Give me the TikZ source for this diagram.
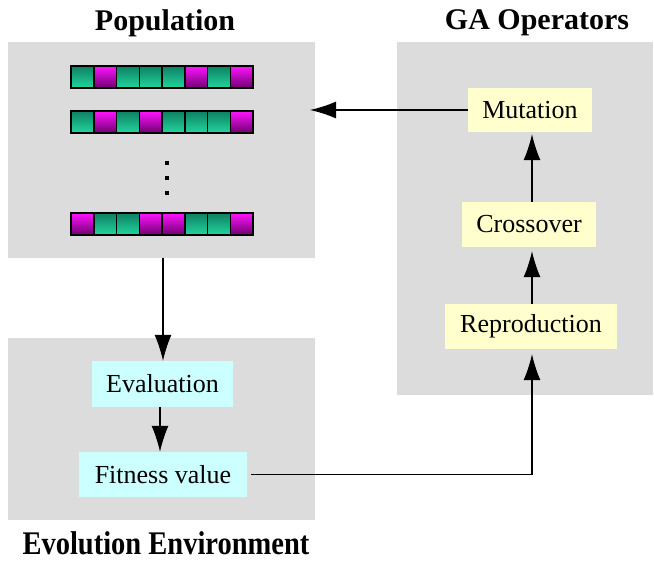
\documentclass[tikz,border=0pt]{standalone}
\usepackage{fontspec}
\setmainfont{Liberation Serif}
\usetikzlibrary{arrows.meta}
\definecolor{panelgray}{RGB}{220,220,220}
\definecolor{opyellow}{RGB}{255,255,206}
\definecolor{evcyan}{RGB}{204,255,255}
\definecolor{gtop}{RGB}{14,128,98}
\definecolor{gbot}{RGB}{34,214,158}
\definecolor{mtop}{RGB}{255,20,255}
\definecolor{mbot}{RGB}{110,0,110}
\tikzset{
  panel/.style={fill=panelgray, draw=none, inner sep=0pt},
  opbox/.style={fill=opyellow, draw=none, inner sep=0pt, font=\fontsize{26}{30}\selectfont},
  evbox/.style={fill=evcyan, draw=none, inner sep=0pt, font=\fontsize{26}{30}\selectfont},
  title/.style={font=\fontsize{30}{36}\selectfont\bfseries, inner sep=0pt},
  conn/.style={line width=1.1pt, -{Latex[length=26pt,width=17pt]}},
  gcell/.style={top color=gtop, bottom color=gbot, draw=black, line width=1.5pt},
  mcell/.style={top color=mtop, bottom color=mbot, draw=black, line width=1.5pt},
}
\begin{document}
\begin{tikzpicture}[x=1pt,y=-1pt]
\useasboundingbox (0,0) rectangle (654,561);
\fill[white] (0,0) rectangle (654,561);
% panels
\node[panel, minimum width=307pt, minimum height=216pt] (pop) at (161.5,150) {};
\node[panel, minimum width=307pt, minimum height=182pt] (env) at (161.5,429) {};
\node[panel, minimum width=256pt, minimum height=353pt] (ga) at (525,218.5) {};
% titles
\node[title] (tpop) at (165,23) {Population};
\node[title] (tga) at (537,23) {GA Operators};
\node[title] (tenv) at (166,543) {\scalebox{0.95}[1.1]{Evolution Environment}};
% chromosomes
\foreach \r/\y in {1/66, 2/111, 3/213}{
  \foreach \i in {0,...,7}{
    \coordinate (c\r-\i) at ({71+22.75*\i},\y);
  }
}
\foreach \i/\t in {0/g,1/m,2/g,3/g,4/g,5/m,6/g,7/m}{
  \path[\t cell] (c1-\i) rectangle ++(22.75,22);
}
\foreach \i/\t in {0/g,1/m,2/g,3/m,4/g,5/g,6/g,7/m}{
  \path[\t cell] (c2-\i) rectangle ++(22.75,22);
}
\foreach \i/\t in {0/m,1/g,2/g,3/m,4/m,5/g,6/g,7/m}{
  \path[\t cell] (c3-\i) rectangle ++(22.75,22);
}
% dots
\foreach \y in {163,178,193}{
  \fill[black] (165,{\y-2}) rectangle (169,{\y+2});
}
% operator boxes
\node[opbox, minimum width=124pt, minimum height=44pt] (mut) at (530,110) {Mutation};
\node[opbox, minimum width=134pt, minimum height=45pt] (cross) at (529,224.5) {Crossover};
\node[opbox, minimum width=172pt, minimum height=45pt] (repro) at (531,326.5) {Reproduction};
% evaluation boxes
\node[evbox, minimum width=141pt, minimum height=46pt] (eval) at (162.5,384) {Evaluation};
\node[evbox, minimum width=168pt, minimum height=45pt] (fit) at (163,474.5) {Fitness value};
% connectors
\coordinate (popin) at (310,110);
\coordinate (bend) at (532,474.5);
\draw[conn] (mut.west) -- (popin);
\draw[conn, shorten >=2pt] (cross.north -| bend) -- (mut.south -| bend);
\draw[conn, shorten >=4pt] (repro.north -| bend) -- (cross.south -| bend);
\draw[conn, shorten >=5pt] ([xshift=4pt]fit.east) -- (bend) -- (repro.south -| bend);
\draw[conn] (pop.south -| 163,0) -- (eval.north -| 163,0);
\draw[conn] (eval.south -| 160,0) -- (fit.north -| 160,0);
\end{tikzpicture}
\end{document}
